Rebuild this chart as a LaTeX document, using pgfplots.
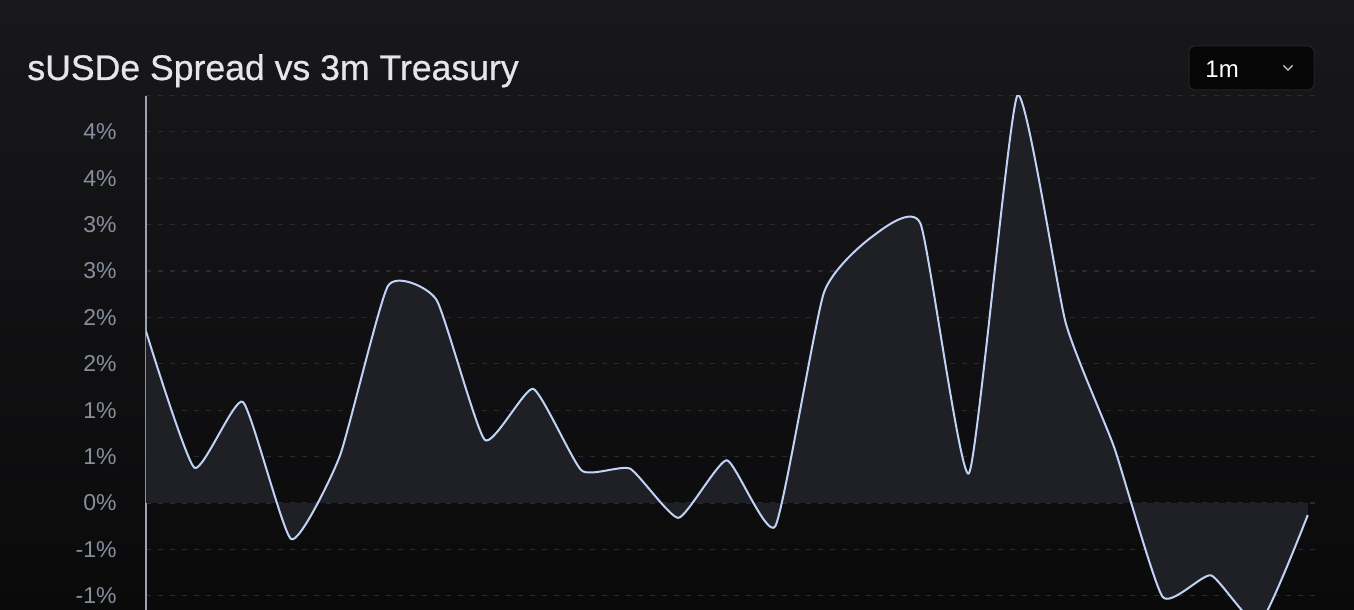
\documentclass[border=0pt]{standalone}
\usepackage{fontspec}
\setmainfont{Liberation Sans}
\newfontfamily\titlefont[FakeBold=0.6]{Liberation Sans}
\usepackage{pgfplots}
\pgfplotsset{compat=1.18}

\definecolor{bgtop}{HTML}{18181B}
\definecolor{bgbot}{HTML}{0A0A0B}
\definecolor{titlecol}{HTML}{E6E6E8}
\definecolor{tickcol}{HTML}{878E9C}
\definecolor{axiscol}{HTML}{9AA2B3}
\definecolor{gridcol}{HTML}{272B34}
\definecolor{linecol}{HTML}{C0D2F5}
\definecolor{areacol}{HTML}{1F2025}
\definecolor{dropbg}{HTML}{060607}
\definecolor{dropborder}{HTML}{26262A}

\begin{document}
\begin{tikzpicture}
\useasboundingbox (0pt,0pt) rectangle (677pt,305pt);
\clip (0pt,0pt) rectangle (677pt,305pt);
\shade[top color=bgtop,bottom color=bgbot] (0pt,0pt) rectangle (677pt,305pt);

% title
\node[anchor=base west,inner sep=0pt,text=titlecol,
      font=\titlefont\fontsize{17.8}{20}\selectfont] at (13.5pt,265pt) {sUSDe Spread vs 3m Treasury};

% range selector
\filldraw[fill=dropbg,draw=dropborder,line width=0.5pt,rounded corners=3pt]
    (594.5pt,260pt) rectangle (657pt,282pt);
\node[anchor=base west,inner sep=0pt,text=white,
      font=\fontsize{12}{14}\selectfont] at (602.5pt,266pt) {1m};
\draw[white!80!black,line width=0.6pt] (641.7pt,272.3pt) -- (644pt,270pt) -- (646.3pt,272.3pt);

\begin{axis}[
    at={(73pt,53.5pt)}, anchor=origin,
    scale only axis,
    width=585pt, height=264pt,
    xmin=0, xmax=24.17,
    ymin=-1.3, ymax=4.39,
    axis x line=none,
    axis y line*=left,
    y axis line style={-,draw=axiscol,line width=1pt},
    major tick length=0pt,
    ytick={-1,-0.5,0,0.5,1,1.5,2,2.5,3,3.5,4},
    yticklabels={-1\%,-1\%,0\%,1\%,1\%,2\%,2\%,3\%,3\%,4\%,4\%},
    yticklabel style={text=tickcol,inner sep=0pt,anchor=east,xshift=-14.5pt,
                      font=\fontsize{11.5}{13}\selectfont},
    extra y ticks={4.39},
    extra y tick labels={},
    ymajorgrids,
    grid style={gridcol,line width=0.6pt,dash pattern=on 2.5pt off 3.5pt},
]
    % area between the spread and zero
    \addplot[draw=none,fill=areacol,smooth,tension=0.3] coordinates {
        (0,1.85) (1,0.38) (2,1.09) (3,-0.39) (4,0.50)
        (5,2.34) (6,2.19) (7,0.68) (8,1.23) (9,0.35)
        (10,0.37) (11,-0.16) (12,0.46) (13,-0.25) (14,2.26)
        (15,2.87) (16,3.01) (17,0.32) (18,4.39) (19,1.94)
        (20,0.60) (21,-1.01) (22,-0.78) (23,-1.30) (24,-0.13)
    } \closedcycle;
    % spread line
    \addplot[linecol,line width=1pt,smooth,tension=0.3] coordinates {
        (0,1.85) (1,0.38) (2,1.09) (3,-0.39) (4,0.50)
        (5,2.34) (6,2.19) (7,0.68) (8,1.23) (9,0.35)
        (10,0.37) (11,-0.16) (12,0.46) (13,-0.25) (14,2.26)
        (15,2.87) (16,3.01) (17,0.32) (18,4.39) (19,1.94)
        (20,0.60) (21,-1.01) (22,-0.78) (23,-1.30) (24,-0.13)
    };
\end{axis}
\end{tikzpicture}
\end{document}
